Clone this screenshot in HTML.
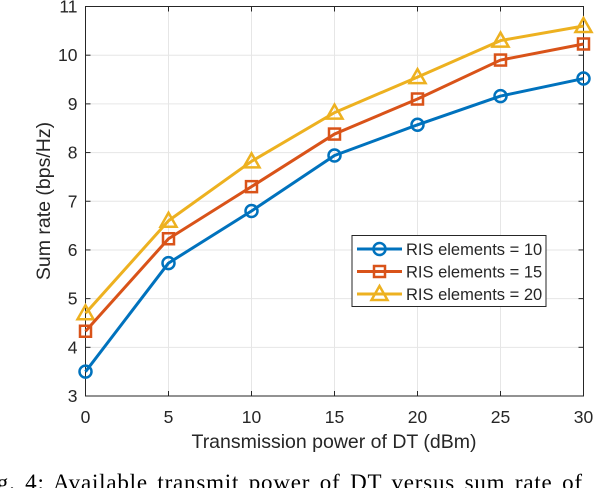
<!DOCTYPE html>
<html><head><meta charset="utf-8"><style>
html,body{margin:0;padding:0;background:#fff;width:612px;height:488px;overflow:hidden}
svg{display:block}
text{font-family:"Liberation Sans",sans-serif;fill:#262626}
</style></head><body>
<svg id="chart" width="612" height="488">
<g id="grid"></g>
<rect x="85.5" y="6.5" width="498" height="389.5" fill="none" stroke="#262626" stroke-width="1"/>
<g id="ticks"></g>
<g id="series"></g>
<text x="334" y="448" font-size="19.5" text-anchor="middle">Transmission power of DT (dBm)</text>
<text transform="translate(50,201) rotate(-90)" font-size="19.5" text-anchor="middle">Sum rate (bps/Hz)</text>
<g id="legend">
<rect x="352" y="235.5" width="194" height="71" fill="#fff" stroke="#262626" stroke-width="1"/>
</g>
<text x="-24" y="490" font-size="23" style="font-family:'Liberation Serif',serif;fill:#000;letter-spacing:0.8px;word-spacing:3px">Fig. 4: Available transmit power of DT versus sum rate of</text>
</svg>
<script>
const xValues=[0,5,10,15,20,25,30];
const xTicks=[0,5,10,15,20,25,30];
const yTicks=[3,4,5,6,7,8,9,10,11];
const rate10=[3.5,5.73,6.8,7.94,8.57,9.16,9.52];
const rate15=[4.33,6.23,7.3,8.38,9.1,9.9,10.23];
const rate20=[4.7,6.6,7.82,8.82,9.55,10.3,10.6];
const seriesLabels=["RIS elements = 10","RIS elements = 15","RIS elements = 20"];
const NS="http://www.w3.org/2000/svg";
const X0=85.5,X1=583.5,Y0=396,Y1=6.5;
const xs=v=>X0+(v-0)/(30-0)*(X1-X0);
const ys=v=>Y0-(v-3)/(11-3)*(Y0-Y1);
function mk(tag,attrs,parent){const e=document.createElementNS(NS,tag);for(const k in attrs)e.setAttribute(k,attrs[k]);parent.appendChild(e);return e;}
const grid=document.getElementById('grid'),ticks=document.getElementById('ticks'),ser=document.getElementById('series'),leg=document.getElementById('legend');
xTicks.forEach(t=>{const x=xs(t);
 const g=mk('line',{x1:x,x2:x,y1:Y1,y2:Y0,stroke:'#e6e6e6','stroke-width':1},grid);
 
 
 mk('line',{x1:x,x2:x,y1:Y0,y2:Y0-5,stroke:'#262626'},ticks);
 mk('line',{x1:x,x2:x,y1:Y1,y2:Y1+5,stroke:'#262626'},ticks);
 const tx=mk('text',{x:x,y:Y0+27,'font-size':17.5,'text-anchor':'middle'},ticks);tx.textContent=t;
 
 
});
yTicks.forEach(t=>{const y=ys(t);
 const g=mk('line',{x1:X0,x2:X1,y1:y,y2:y,stroke:'#e6e6e6','stroke-width':1},grid);
 
 
 mk('line',{x1:X0,x2:X0+5,y1:y,y2:y,stroke:'#262626'},ticks);
 mk('line',{x1:X1,x2:X1-5,y1:y,y2:y,stroke:'#262626'},ticks);
 const tx=mk('text',{x:X0-8,y:y+6,'font-size':17.5,'text-anchor':'end'},ticks);tx.textContent=t;
 
 
});
function marker(type,x,y,color,parent){
 let m;
 if(type==='circle') m=mk('circle',{cx:x,cy:y,r:6,fill:'none',stroke:color,'stroke-width':2.5},parent);
 else if(type==='square') m=mk('rect',{x:x-5.5,y:y-5.5,width:11,height:11,fill:'none',stroke:color,'stroke-width':2.5},parent);
 else m=mk('polygon',{points:`${x},${y-8} ${x-8},${y+6} ${x+8},${y+6}`,fill:'none',stroke:color,'stroke-width':2.5},parent);
 return m;
}
const all=[[rate10,'#0072bd','circle','series-10'],[rate15,'#d95319','square','series-15'],[rate20,'#edb120','triangle','series-20']];
all.slice().reverse().forEach(([vals,c,type,name])=>{
 const g=mk('g',{},ser);
 
 
 const p=mk('polyline',{points:vals.map((v,i)=>xs(xValues[i])+','+ys(v)).join(' '),fill:'none',stroke:c,'stroke-width':3,'stroke-linejoin':'round'},g);
 
 
 vals.forEach((v,i)=>{const m=marker(type,xs(xValues[i]),ys(v),c,g);
  
  });
});
all.forEach(([vals,c,type,name],i)=>{
 const y=249+i*22.5;
 const g=mk('g',{},leg);
 
 
 mk('line',{x1:357,x2:402,y1:y,y2:y,stroke:c,'stroke-width':3},g);
 marker(type,379.5,y,c,g);
 const t=mk('text',{x:406,y:y+6,'font-size':16.5},g);t.textContent=seriesLabels[i];
});
</script>
</body></html>
